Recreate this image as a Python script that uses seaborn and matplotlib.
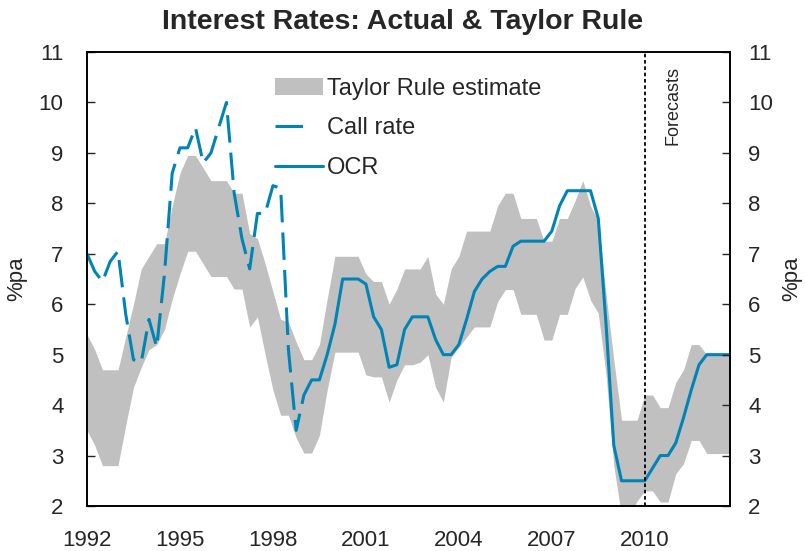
import numpy as np
import pandas as pd
import matplotlib
matplotlib.use("Agg")
import matplotlib.pyplot as plt
import seaborn as sns
from matplotlib.patches import Patch
from matplotlib.lines import Line2D

# quarterly time axis, 1992 Q1 .. 2012 Q4
quarters = [1992 + i * 0.25 for i in range(84)]

# Taylor rule band (upper / lower)
taylor_upper = [
    5.4, 5.1, 4.7, 4.7,
    4.7, 5.35, 6.0, 6.7,
    6.95, 7.2, 7.2, 7.95,
    8.6, 8.95, 8.95, 8.7,
    8.45, 8.45, 8.45, 8.2,
    8.2, 7.4, 7.3, 6.8,
    6.25, 5.7, 5.65, 5.25,
    4.9, 4.9, 5.2, 6.1,
    6.95, 6.95, 6.95, 6.95,
    6.6, 6.45, 6.45, 6.0,
    6.3, 6.7, 6.7, 6.7,
    6.95, 6.2, 6.0, 6.7,
    6.95, 7.45, 7.45, 7.45,
    7.45, 7.95, 8.2, 8.2,
    7.7, 7.7, 7.7, 7.25,
    7.25, 7.7, 7.7, 8.05,
    8.45, 7.95, 7.65, 6.2,
    4.9, 3.7, 3.7, 3.7,
    4.2, 4.2, 3.95, 3.95,
    4.45, 4.7, 5.2, 5.2,
    5.0, 5.0, 5.0, 5.0,
]
taylor_lower = [
    3.5, 3.2, 2.8, 2.8,
    2.8, 3.6, 4.35, 4.75,
    5.1, 5.2, 5.5, 6.1,
    6.6, 7.05, 7.05, 6.8,
    6.55, 6.55, 6.55, 6.3,
    6.3, 5.55, 5.75, 5.0,
    4.3, 3.8, 3.8, 3.35,
    3.05, 3.05, 3.4, 4.3,
    5.05, 5.05, 5.05, 5.05,
    4.6, 4.56, 4.56, 4.06,
    4.5, 4.8, 4.8, 4.85,
    5.0, 4.35, 4.06, 4.95,
    5.15, 5.35, 5.55, 5.55,
    5.55, 6.05, 6.29, 6.29,
    5.8, 5.8, 5.8, 5.29,
    5.29, 5.8, 5.8, 6.31,
    6.54, 6.08, 5.82, 4.6,
    2.8, 1.8, 1.8, 2.1,
    2.3, 2.3, 2.08, 2.08,
    2.64, 2.84, 3.3, 3.3,
    3.04, 3.04, 3.04, 3.04,
]

# call rate before the OCR (1992 Q1 .. 1999 Q2)
call_dates = [1992 + i * 0.25 for i in range(30)]
call_rate = [
    7.0, 6.65, 6.45, 6.85,
    7.05, 5.8, 4.9, 4.85,
    5.7, 5.15, 6.6, 8.6,
    9.1, 9.1, 9.5, 8.8,
    9.0, 9.5, 10.0, 8.2,
    7.3, 6.7, 7.8, 7.8,
    8.35, 8.3, 5.1, 3.5,
    4.2, 4.5,
]

# official cash rate (1999 Q2 .. 2012 Q4)
ocr_dates = [1999.25 + i * 0.25 for i in range(55)]
ocr = [
    4.5, 4.5, 5.0,
    5.6, 6.5, 6.5, 6.5,
    6.4, 5.75, 5.5, 4.75,
    4.8, 5.5, 5.75, 5.75,
    5.75, 5.3, 5.0, 5.0,
    5.2, 5.7, 6.25, 6.5,
    6.65, 6.75, 6.75, 7.15,
    7.25, 7.25, 7.25, 7.25,
    7.45, 7.95, 8.25, 8.25,
    8.25, 8.25, 7.7, 5.6,
    3.2, 2.5, 2.5, 2.5,
    2.5, 2.75, 3.0, 3.0,
    3.25, 3.75, 4.3, 4.8,
    5.0, 5.0, 5.0, 5.0,
]

forecast_start = 2010.0
x_tick_years = list(range(1992, 2013))
x_label_years = [1992, 1995, 1998, 2001, 2004, 2007, 2010]
y_ticks = list(range(2, 12))

BLUE = "#0084B6"
GREY = "#C0C0C0"

sns.set_style("white")
plt.rcParams["font.family"] = ["Liberation Sans", "DejaVu Sans"]

band = pd.DataFrame({"date": quarters, "upper": taylor_upper, "lower": taylor_lower})
calls = pd.DataFrame({"date": call_dates, "rate": call_rate})
cash = pd.DataFrame({"date": ocr_dates, "rate": ocr})

fig = plt.figure(figsize=(8.06, 5.51), dpi=100)
ax = fig.add_axes([87 / 806, 1 - 506 / 551, 643 / 806, 454 / 551])

ax.fill_between(band["date"], band["lower"], band["upper"], color=GREY, lw=0, zorder=1)
sns.lineplot(data=calls, x="date", y="rate", ax=ax, color=BLUE, lw=2.2,
             linestyle=(0, (9, 3.3)), zorder=3)
sns.lineplot(data=cash, x="date", y="rate", ax=ax, color=BLUE, lw=2.2, zorder=3)
ax.axvline(forecast_start, color="black", lw=1.3, linestyle=(0, (2, 1.5)), zorder=4)
ax.text(forecast_start + 0.9, 10.72, "Forecasts", rotation=90, ha="center", va="top",
        fontsize=13)

ax.set_xlim(1992, 2012.75)
ax.set_ylim(2, 11)
ax.set_xticks(x_tick_years)
ax.set_xticklabels([str(y) if y in x_label_years else "" for y in x_tick_years])
ax.set_yticks(y_ticks)
ax.set_xlabel("")
ax.set_ylabel("%pa", fontsize=16, labelpad=8)
ax.tick_params(axis="x", direction="in", length=6, width=1, labelsize=16, pad=17)
ax.tick_params(axis="y", direction="in", length=6, width=1, labelsize=16, pad=17)
for s in ax.spines.values():
    s.set_color("black")
    s.set_linewidth(1.2)

ax2 = ax.twinx()
ax2.set_ylim(2, 11)
ax2.set_yticks(y_ticks)
ax2.tick_params(axis="y", direction="in", length=6, width=1, labelsize=16, pad=13)
ax2.set_ylabel("%pa", fontsize=16, labelpad=6)
for s in ax2.spines.values():
    s.set_color("black")
    s.set_linewidth(1.2)

handles = [
    Patch(facecolor=GREY, edgecolor="none", label="Taylor Rule estimate"),
    Line2D([], [], color=BLUE, lw=2.2, linestyle=(0, (9, 8)), label="Call rate"),
    Line2D([], [], color=BLUE, lw=2.2, label="OCR"),
]
ax.legend(handles=handles, loc="upper left", bbox_to_anchor=(0.26, 0.99),
          frameon=False, fontsize=17, handlelength=2.0, handletextpad=0.2,
          labelspacing=0.75)

fig.text(0.5, 1 - 22 / 551, "Interest Rates: Actual & Taylor Rule", ha="center",
         va="center", fontsize=20.5, fontweight="bold")

fig.savefig("out.png", dpi=100)
